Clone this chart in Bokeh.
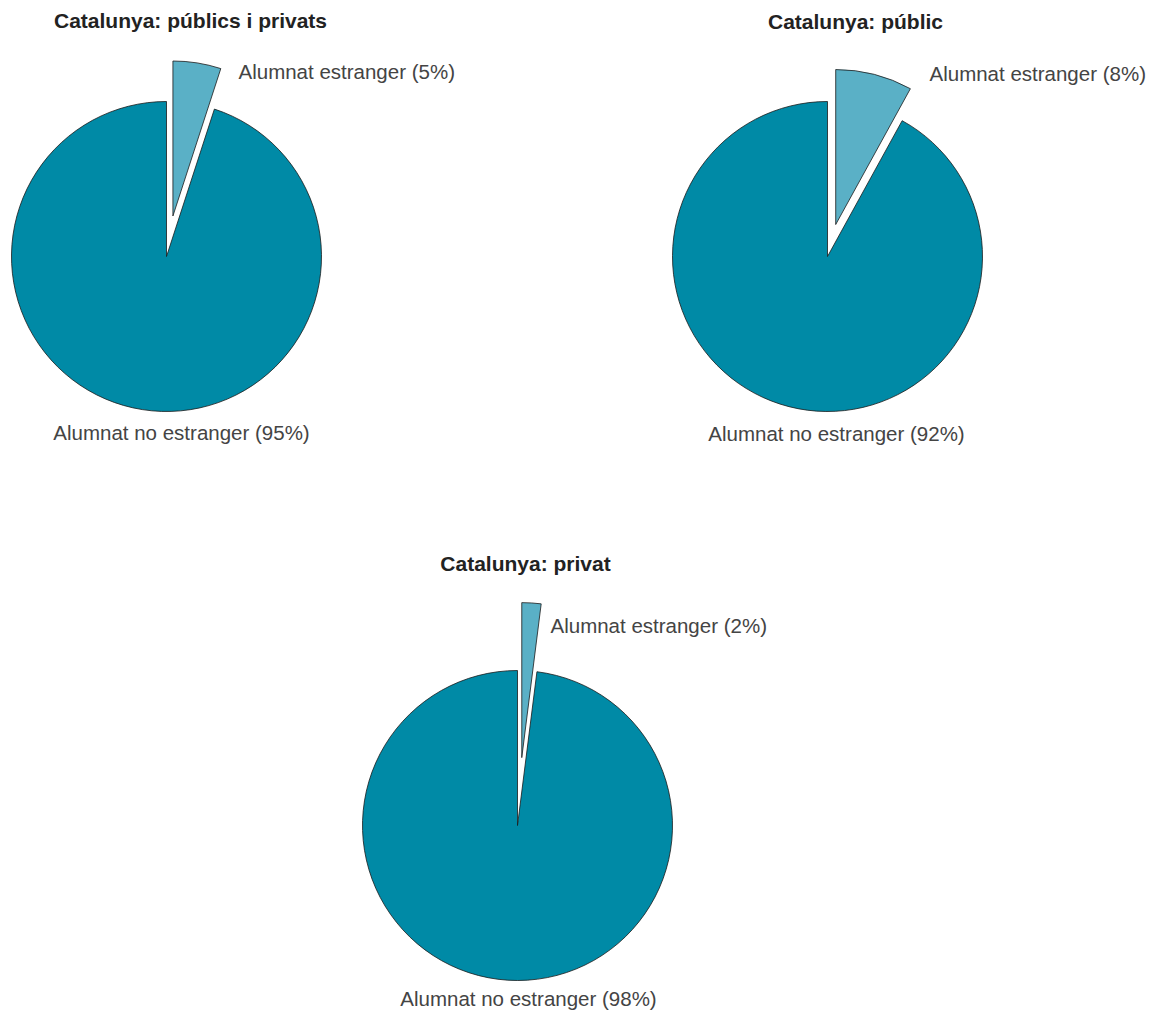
import math
from bokeh.plotting import figure
from bokeh.models import Range1d
from bokeh.core.properties import value
from bokeh.embed import file_html
from bokeh.resources import INLINE

# ---- data ----
titles = ["Catalunya: públics i privats", "Catalunya: públic", "Catalunya: privat"]
pct_estranger = [5, 8, 2]
pct_no_estranger = [95, 92, 98]
label_estranger = "Alumnat estranger"
label_no_estranger = "Alumnat no estranger"

# ---- layout (pixels) ----
W, H = 1154, 1012
def sx(x):  # screen x -> data x
    return x
def sy(y):  # screen y -> data y
    return H - y

centers = [(166, 256), (827, 256), (517, 825)]
radius = 155
explode = [41, 33, 68]
title_pos = [(190, 20), (855, 21), (525, 563)]
lab_est_pos = [(238, 71), (929, 73), (550, 625)]
lab_no_pos = [(181, 432), (836, 433), (528, 998)]

c_main = "#008aa6"
c_expl = "#5ab0c6"
c_line = "#1a1a1a"
font = value("Liberation Sans")

p = figure(width=W, height=H, output_backend="svg", toolbar_location=None,
           x_range=Range1d(0, W), y_range=Range1d(0, H), min_border=0,
           background_fill_color="white", border_fill_color="white")
p.axis.visible = False
p.grid.visible = False
p.outline_line_color = None

for i in range(3):
    cx, cy = sx(centers[i][0]), sy(centers[i][1])
    frac = pct_estranger[i] / 100.0
    a_top = math.pi / 2
    a_small = a_top - frac * 2 * math.pi
    # main (non-foreign) slice
    p.wedge(x=[cx], y=[cy], radius=radius, start_angle=a_top, end_angle=a_small + 2 * math.pi,
            direction="anticlock", fill_color=c_main, line_color=c_line, line_width=0.8)
    # exploded slice
    bis = (a_top + a_small) / 2
    ex, ey = cx + explode[i] * math.cos(bis), cy + explode[i] * math.sin(bis)
    p.wedge(x=[ex], y=[ey], radius=radius, start_angle=a_small, end_angle=a_top,
            direction="anticlock", fill_color=c_expl, line_color=c_line, line_width=0.8)

    p.text(x=[sx(title_pos[i][0])], y=[sy(title_pos[i][1])], text=[titles[i]],
           text_font=font, text_font_style="bold", text_font_size="21px",
           text_color="#222222", text_align="center", text_baseline="middle")
    p.text(x=[sx(lab_est_pos[i][0])], y=[sy(lab_est_pos[i][1])],
           text=[f"{label_estranger} ({pct_estranger[i]}%)"],
           text_font=font, text_font_size="20.5px", text_color="#444444",
           text_align="left", text_baseline="middle")
    p.text(x=[sx(lab_no_pos[i][0])], y=[sy(lab_no_pos[i][1])],
           text=[f"{label_no_estranger} ({pct_no_estranger[i]}%)"],
           text_font=font, text_font_size="20.5px", text_color="#444444",
           text_align="center", text_baseline="middle")

open("out.html", "w").write(file_html(p, INLINE))
